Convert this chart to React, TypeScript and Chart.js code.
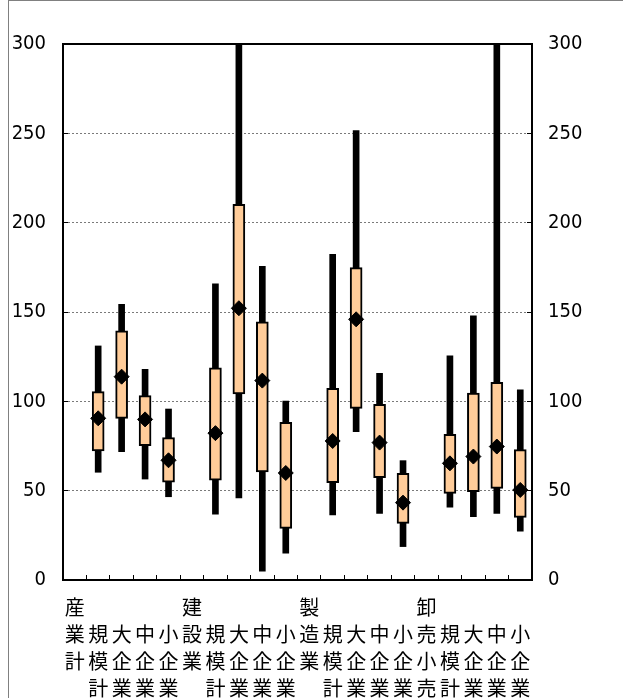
import React, { useEffect, useRef } from 'react';
import { Chart, registerables } from 'chart.js';

Chart.register(...registerables);

const categories = [
  '産業計', '規模計', '大企業', '中企業', '小企業',
  '建設業', '規模計', '大企業', '中企業', '小企業',
  '製造業', '規模計', '大企業', '中企業', '小企業',
  '卸売小売', '規模計', '大企業', '中企業', '小企業',
];
const groupHeaders = ['産業計', '建設業', '製造業', '卸売小売'];

const lowValues = [null, 60.3, 71.8, 56.5, 46.6, null, 36.9, 45.9, 5, 15, null, 36.4, 83, 37.3, 18.7, null, 40.7, 35.4, 37.3, 27.4];
const q1Values = [null, 72.2, 90.5, 75.2, 54.7, null, 55.9, 104.2, 60.5, 28.9, null, 54.5, 96.1, 57.3, 31.7, null, 48.5, 49.4, 51.3, 35];
const meanValues = [null, 90.5, 113.8, 89.9, 67, null, 82.2, 152.1, 111.6, 59.9, null, 77.8, 145.9, 76.9, 43.3, null, 65.3, 69.1, 74.7, 50.4];
const q3Values = [null, 105.4, 139.5, 103.2, 79.7, null, 118.8, 210.2, 144.5, 88.2, null, 107.3, 174.8, 98.3, 59.7, null, 81.6, 104.6, 110.7, 73];
const highValues = [null, 131, 154.3, 117.9, 95.7, null, 165.7, 300, 175.6, 100.2, null, 182.3, 251.5, 115.7, 66.8, null, 125.5, 147.9, 300, 106.4];

const yTicks = [0, 50, 100, 150, 200, 250, 300];

const numFont = "'Liberation Sans Narrow', 'DejaVu Sans Condensed', 'Liberation Sans', sans-serif";
const cjkFont = "'Noto Sans CJK JP', 'Noto Sans CJK SC', sans-serif";

export default function App() {
  const canvasRef = useRef<HTMLCanvasElement | null>(null);

  useEffect(() => {
    const canvas = canvasRef.current;
    if (!canvas) return;

    const labels = categories.map((c) =>
      groupHeaders.includes(c) ? c.split('') : ['', ...c.split('')]
    );

    const chart = new Chart(canvas, {
      type: 'bar',
      data: {
        labels,
        datasets: [
          {
            type: 'line',
            label: '平均',
            data: meanValues as any,
            showLine: false,
            pointStyle: 'rectRot',
            pointRadius: 7.5,
            pointBackgroundColor: '#000',
            pointBorderColor: '#000',
            pointBorderWidth: 1,
            order: 0,
          } as any,
          {
            label: '四分位',
            data: q1Values.map((q, i) => (q == null ? null : [q, q3Values[i] as number])) as any,
            backgroundColor: '#FFCC99',
            borderColor: '#000',
            borderWidth: 2,
            borderSkipped: false,
            barThickness: 12,
            grouped: false,
            order: 1,
          } as any,
          {
            label: '範囲',
            data: lowValues.map((l, i) => (l == null ? null : [l, highValues[i] as number])) as any,
            backgroundColor: '#000',
            borderWidth: 0,
            barThickness: 6,
            grouped: false,
            order: 2,
          } as any,
        ],
      },
      options: {
        animation: false,
        responsive: false,
        maintainAspectRatio: false,
        layout: { padding: { top: 44, left: 0, right: 0, bottom: 0 } },
        plugins: {
          legend: { display: false },
          tooltip: { enabled: false },
        },
        scales: {
          x: {
            type: 'category',
            position: 'bottom',
            weight: 0,
            grid: {
              offset: true,
              drawOnChartArea: false,
              color: '#000',
              tickLength: -5,
              lineWidth: 1,
            },
            border: { display: true, color: '#000', width: 2 },
            ticks: {
              autoSkip: false,
              maxRotation: 0,
              minRotation: 0,
              padding: 19,
              color: '#000',
              font: { family: cjkFont, size: 20, lineHeight: '27px' as any },
            },
            afterFit: (s: any) => {
              s.height = 118;
            },
          },
          xTop: {
            type: 'category',
            position: 'top',
            labels: categories,
            grid: { display: false, drawTicks: false },
            ticks: { display: false },
            border: { display: true, color: '#000', width: 2 },
            afterFit: (s: any) => {
              s.height = 0;
            },
          },
          y: {
            type: 'linear',
            position: 'left',
            min: 0,
            max: 300,
            afterBuildTicks: (s: any) => {
              s.ticks = yTicks.map((v) => ({ value: v }));
            },
            grid: {
              color: (ctx: any) =>
                ctx.tick && (ctx.tick.value === 0 || ctx.tick.value === 300) ? 'rgba(0,0,0,0)' : '#7a7a7a',
              lineWidth: 1,
              tickLength: -5,
              tickColor: '#000',
              tickBorderDash: [],
            } as any,
            border: { display: true, color: '#000', width: 2, dash: [2, 2] },
            ticks: {
              padding: 22,
              color: '#000',
              font: { family: numFont, size: 20 },
              callback: (v: any) => String(v),
            },
            afterFit: (s: any) => {
              s.width = 63;
            },
          },
          y2: {
            type: 'linear',
            position: 'right',
            min: 0,
            max: 300,
            afterBuildTicks: (s: any) => {
              s.ticks = yTicks.map((v) => ({ value: v }));
            },
            grid: {
              drawOnChartArea: false,
              tickLength: -5,
              color: '#000',
            },
            border: { display: true, color: '#000', width: 2 },
            ticks: {
              padding: 21,
              color: '#000',
              font: { family: numFont, size: 20 },
              callback: (v: any) => String(v),
            },
            afterFit: (s: any) => {
              s.width = 91;
            },
          },
        },
      } as any,
    });

    return () => {
      chart.destroy();
    };
  }, []);

  return (
    <div style={{ position: 'absolute', left: 0, top: 0, width: 623, height: 698, overflow: 'hidden', background: '#fff' }}>
      <div
        style={{
          position: 'absolute',
          left: 8,
          top: 0,
          width: 700,
          height: 800,
          borderLeft: '1px solid #808080',
          borderTop: '1px solid #808080',
        }}
      />
      <canvas
        ref={canvasRef}
        width={623}
        height={698}
        style={{ position: 'absolute', left: 0, top: 0, width: 623, height: 698 }}
      />
    </div>
  );
}
